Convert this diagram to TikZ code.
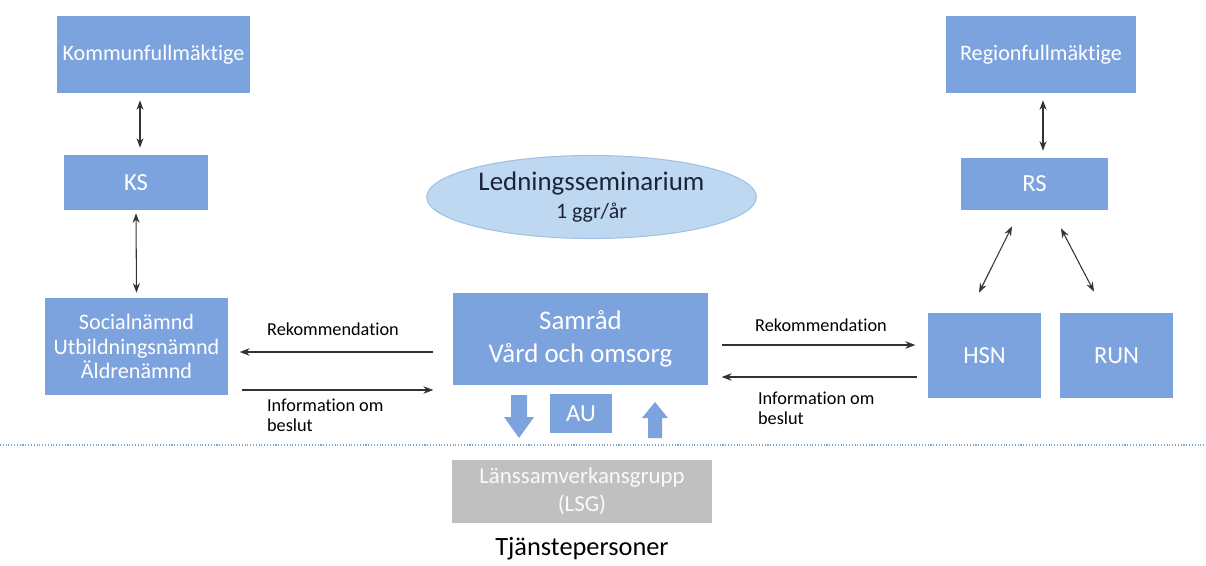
\documentclass[tikz,border=0pt]{standalone}
\usepackage{fontspec}
\setmainfont{Carlito}[Ligatures=NoCommon]
\usepackage{tikz}
\usetikzlibrary{arrows.meta,positioning,shapes.geometric}
\definecolor{boxblue}{RGB}{124,163,221}
\definecolor{ellblue}{RGB}{190,216,242}
\definecolor{ellborder}{RGB}{160,194,230}
\definecolor{lsggrey}{RGB}{192,192,192}
\definecolor{textnavy}{RGB}{28,36,56}
\definecolor{lineblue}{RGB}{120,170,210}
\tikzset{
  base/.style={font=\fontsize{12.6}{14}\selectfont, align=center, inner sep=2pt},
  box/.style={base, rectangle, fill=boxblue, text=white},
  lbl/.style={font=\fontsize{10.4}{11.5}\selectfont, text=black, inner sep=1pt, align=left},
  arr/.style={-{Stealth[length=2mm,width=1.5mm]}, line width=0.6pt, draw=black!80},
  dbl/.style={{Stealth[length=1.9mm,width=1.4mm]}-{Stealth[length=1.9mm,width=1.4mm]}, line width=0.6pt, draw=black!80},
  fat/.style={fill=boxblue},
}
\begin{document}
\begin{tikzpicture}[x=0.02cm,y=-0.02cm]
  \useasboundingbox[fill=white] (0,0) rectangle (1206,565);
  % kommun side
  \node[box, minimum width=3.86cm, minimum height=1.54cm] (kf) at (153.5,54.5) {Kommunfullmäktige};
  \node[box, minimum width=2.88cm, minimum height=1.10cm, font=\fontsize{14}{16}\selectfont] (ks) at (136,182.5) {KS};
  \node[box, minimum width=3.66cm, minimum height=1.94cm, font=\fontsize{12.6}{13.9}\selectfont] (soc) at (136.5,346.5) {Socialnämnd\\Utbildningsnämnd\\Äldrenämnd};
  % region side
  \node[box, minimum width=3.80cm, minimum height=1.54cm] (rf) at (1041,54.5) {Regionfullmäktige};
  \node[box, minimum width=2.94cm, minimum height=1.04cm, font=\fontsize{14}{16}\selectfont] (rs) at (1034.5,184) {RS};
  \node[box, minimum width=2.26cm, minimum height=1.70cm, font=\fontsize{14}{16}\selectfont] (hsn) at (984.5,355.5) {HSN};
  \node[box, minimum width=2.26cm, minimum height=1.70cm, font=\fontsize{14}{16}\selectfont] (run) at (1116.5,355.5) {RUN};
  % middle
  \node[base, ellipse, fill=ellblue, draw=ellborder, line width=0.6pt, minimum width=5.94cm, minimum height=1.66cm, text=textnavy, font=\fontsize{15.3}{15.8}\selectfont] (sem) at (591.5,197) {Ledningsseminarium\\{\fontsize{12.5}{14}\selectfont 1 ggr/år}};
  \node[box, minimum width=5.10cm, minimum height=1.84cm, font=\fontsize{15.3}{18.7}\selectfont] (sam) at (580.5,339) {Samråd\\Vård och omsorg};
  \node[box, minimum width=1.24cm, minimum height=0.78cm, font=\fontsize{14}{16}\selectfont] (au) at (581,413.5) {AU};
  \node[box, fill=lsggrey, text=white!92!lsggrey, minimum width=5.20cm, minimum height=1.26cm, font=\fontsize{13}{16}\selectfont] (lsg) at (582,491.5) {Länssamverkansgrupp\\(LSG)};
  \node[base, font=\fontsize{15}{18}\selectfont, text=black] (tjp) at (582,549) {Tjänstepersoner};
  % vertical links
  \draw[dbl, shorten <=0.14cm, shorten >=0.14cm] (kf.south -| 140,0) -- (ks.north -| 140,0);
  \draw[dbl, shorten <=0.06cm, shorten >=0.1cm] (ks.south) -- (soc.north);
  \draw[dbl, shorten <=0.14cm, shorten >=0.14cm] (rf.south -| 1043,0) -- (rs.north -| 1043,0);
  \draw[dbl] ([xshift=-0.45cm,yshift=-0.32cm]rs.south) -- ([xshift=-0.11cm,yshift=0.4cm]hsn.north);
  \draw[dbl] ([xshift=0.53cm,yshift=-0.36cm]rs.south) -- ([xshift=-0.45cm,yshift=0.42cm]run.north);
  % recommendations and information
  \draw[arr] ([xshift=-0.4cm,yshift=-0.26cm]sam.west) -- ++(-193,0);
  \draw[arr] ([xshift=0.28cm,yshift=-0.87cm]soc.east) -- ++(191,0);
  \draw[arr] ([xshift=0.28cm,yshift=-0.12cm]sam.east) -- ++(193,0);
  \draw[arr] ([xshift=-0.22cm,yshift=-0.43cm]hsn.west) -- ++(-195,0);
  \node[lbl] (rekl) at (333,329) {Rekommendation};
  \node[lbl, anchor=west] (infl) at (265,415) {Information om\\beslut};
  \node[lbl] (rekr) at (821,325) {Rekommendation};
  \node[lbl, anchor=west] (infr) at (756,408) {Information om\\beslut};
  % block arrows to and from LSG
  \fill[fat] (511,395) -- (527,395) -- (527,417) -- (534,417) -- (519,438) -- (504,417) -- (511,417) -- cycle;
  \fill[fat] (648,438) -- (662,438) -- (662,418) -- (668,418) -- (655,402) -- (642,418) -- (648,418) -- cycle;
  % divider
  \draw[lineblue, densely dotted, line width=0.6pt] (0,445) -- (1206,445);
\end{tikzpicture}
\end{document}
